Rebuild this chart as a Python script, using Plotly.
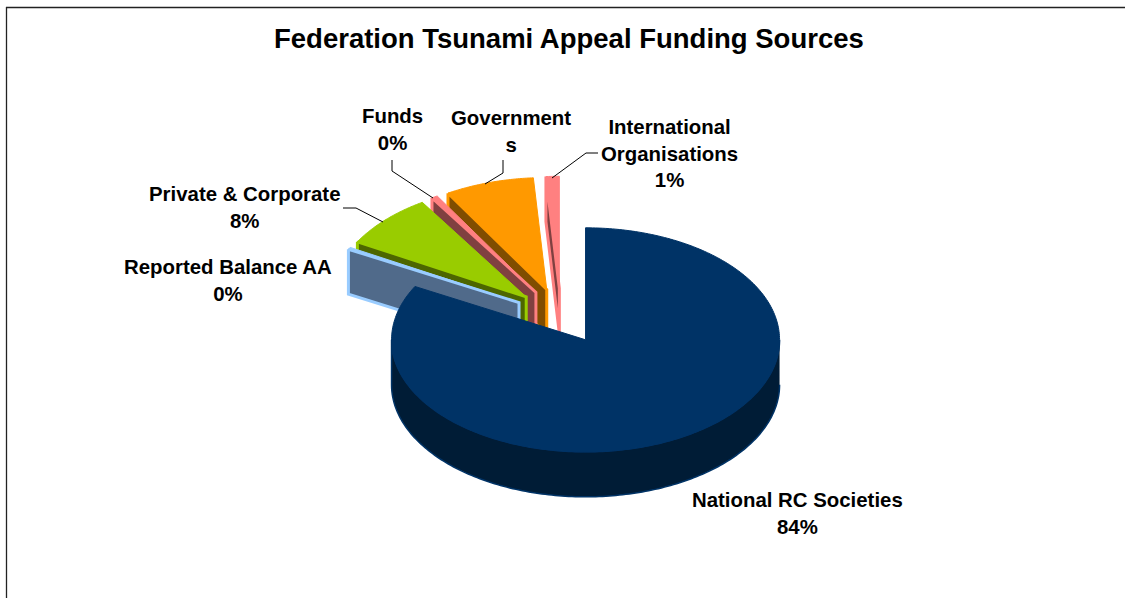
import numpy as np
import plotly.graph_objects as go

# ---- data ----
categories = ["National RC Societies", "Reported Balance AA", "Private & Corporate",
              "Funds", "Governments", "International Organisations"]
values = [82.9, 0.3, 7.8, 0.5, 7.4, 1.1]
label_texts = ["National RC Societies<br>84%", "Reported Balance AA<br>0%", "Private & Corporate<br>8%",
               "Funds<br>0%", "Government<br>s", "International<br>Organisations<br>1%"]
title_text = "Federation Tsunami Appeal Funding Sources"

# ---- styles and layout ----
top_colors = ["#003366", "#99ccff", "#99cc00", "#ff8080", "#ff9900", "#ff8080"]
wall_colors = ["#001c36", "#506a8a", "#4d6600", "#804040", "#804d00", "#804040"]
label_pos = [(797, 513), (228, 280), (245, 207), (392, 129), (511, 131), (669, 153)]
CX, CY, RX, RY, DEPTH, EXPLODE = 561.0, 316.0, 194.0, 112.0, 45.0, 48.0
W, H = 1125, 598
leaders = [[(343, 208), (356, 208), (383, 222)],
           [(392, 160), (392, 171), (433, 198)],
           [(503, 160), (503, 173), (485, 184)],
           [(598, 153), (586, 153), (552, 178)]]


def pt(theta, r, ox, oy):
    """Clockwise-from-top angle (degrees) on the tilted pie plane."""
    t = np.radians(theta)
    return ox + r * RX * np.sin(t), oy - r * RY * np.cos(t)


fig = go.Figure()


def poly(xs, ys, fill, line, lw, name):
    fig.add_trace(go.Scatter(x=list(xs), y=list(ys), mode="lines", fill="toself",
                             fillcolor=fill, line=dict(color=line, width=lw, simplify=False),
                             hoverinfo="name", name=name, showlegend=False))


# slice boundaries, walking clockwise from 12 o'clock
edges = np.concatenate([[0], np.cumsum(values)]) / sum(values) * 360
slices = []
for i, c in enumerate(categories):
    a0, a1 = edges[i], edges[i + 1]
    mid = (a0 + a1) / 2
    ox, oy = pt(mid, EXPLODE / RX, CX, CY)
    slices.append((i, c, a0, a1, ox, oy))

# small slices back to front, the big slice last
for i, c, a0, a1, ox, oy in reversed(slices[1:]):
    th = np.linspace(a0, a1, max(3, int(a1 - a0) * 2))
    ax, ay = pt(th, 1.0, ox, oy)
    poly(np.r_[ox, ax, ox], np.r_[oy, ay, oy], top_colors[i], top_colors[i], 1, c)
    ex, ey = pt(a0, 1.0, ox, oy)
    poly([ex, ox, ox, ex, ex], [ey, oy, oy + DEPTH, ey + DEPTH, ey], wall_colors[i], top_colors[i], 3, c)

i, c, a0, a1, ox, oy = slices[0]
front = np.linspace(90, min(270, a1), 181)
fx, fy = pt(front, 1.0, ox, oy)
poly(np.r_[fx, fx[::-1]], np.r_[fy, fy[::-1] + DEPTH], wall_colors[0], top_colors[0], 1.5, c)
th = np.linspace(a0, a1, 300)
ax, ay = pt(th, 1.0, ox, oy)
poly(np.r_[ox, ax, ox], np.r_[oy, ay, oy], top_colors[0], top_colors[0], 1, c)

for seg in leaders:
    fig.add_trace(go.Scatter(x=[p[0] for p in seg], y=[p[1] for p in seg], mode="lines",
                             line=dict(color="#000000", width=1), hoverinfo="skip", showlegend=False))

annotations = [dict(x=x, y=y, text=f"<b>{t}</b>", showarrow=False, xref="x", yref="y", align="center",
                    xanchor="center", yanchor="middle",
                    font=dict(family="Liberation Sans", size=20.4, color="#000000"))
               for t, (x, y) in zip(label_texts, label_pos)]
annotations.append(dict(x=569, y=38, text=f"<b>{title_text}</b>", showarrow=False, xref="x", yref="y",
                        xanchor="center", yanchor="middle",
                        font=dict(family="Liberation Sans", size=27.5, color="#000000")))

fig.update_layout(
    width=W, height=H, margin=dict(l=0, r=0, t=0, b=0),
    paper_bgcolor="white", plot_bgcolor="white",
    xaxis=dict(range=[0, W], visible=False, fixedrange=True),
    yaxis=dict(range=[H, 0], visible=False, fixedrange=True),
    annotations=annotations,
    shapes=[dict(type="line", xref="x", yref="y", x0=6.5, x1=6.5, y0=7, y1=H, line=dict(color="#222222", width=1.3)),
            dict(type="line", xref="x", yref="y", x0=6, x1=W, y0=7.5, y1=7.5, line=dict(color="#222222", width=1.3))],
)

fig.write_html("out.html", config=dict(displayModeBar=False),
               post_script="document.body.style.margin='0';")
